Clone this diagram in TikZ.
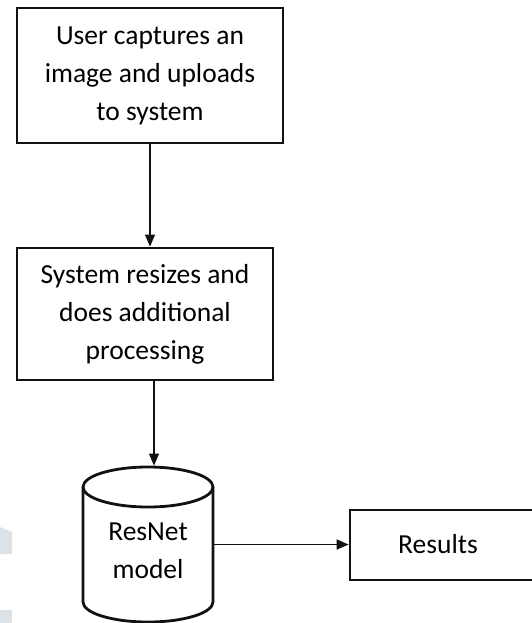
\documentclass[tikz,border=0pt]{standalone}
\usepackage{fontspec}
\setmainfont{Carlito}
\usetikzlibrary{arrows.meta}
\definecolor{markGray}{HTML}{DCE3E8}
\definecolor{lineBlack}{HTML}{111111}
\tikzset{
  procbox/.style={draw=lineBlack, line width=2.8pt, align=center, inner sep=0pt,
    font=\fontsize{27.5}{38}\selectfont},
  flow/.style={draw=lineBlack, line width=1.3pt, -{Triangle[length=12pt,width=10pt]}}
}

\begin{document}
\begin{tikzpicture}[x=1pt, y=-1pt]
    \useasboundingbox (0,0) rectangle (531,623);
    % faint marks at the left margin
    \fill[markGray] (0,527) -- (12,532) -- (12,554) -- (0,554) -- cycle;
    \fill[markGray] (0,610) rectangle (12,623);

    \node[procbox, minimum width=266pt, minimum height=135pt] (upload) at (150,75.5)
      {User captures an\\image and uploads\\to system};
    \node[procbox, minimum width=256pt, minimum height=132pt] (resize) at (145,314)
      {System resizes and\\does additional\\processing};
    \node[procbox, draw=none, minimum width=130pt, minimum height=155pt] (model) at (148,544.5)
      {};
    \node[font=\fontsize{27.5}{38}\selectfont, align=center] (modeltext) at (148,551)
      {ResNet\\model};
    % cylinder outline
    \draw[lineBlack, line width=2.8pt] (148,487) ellipse [x radius=65, y radius=20];
    \draw[lineBlack, line width=2.8pt] (83,487) -- (83,602)
      arc [start angle=180, end angle=0, x radius=65, y radius=20] -- (213,487);
    \node[procbox, minimum width=195pt, minimum height=70pt] (results) at (447.5,545) {};
    \node[font=\fontsize{27.5}{38}\selectfont] (resultstext) at (438,544) {Results};

    \draw[flow] (upload.south) -- (upload.south |- resize.north);
    \draw[flow] ([xshift=9pt]resize.south) -- ([xshift=9pt]resize.south |- model.north);
    \draw[flow] (model.east) -- (model.east -| results.west);
  \end{tikzpicture}
\end{document}
